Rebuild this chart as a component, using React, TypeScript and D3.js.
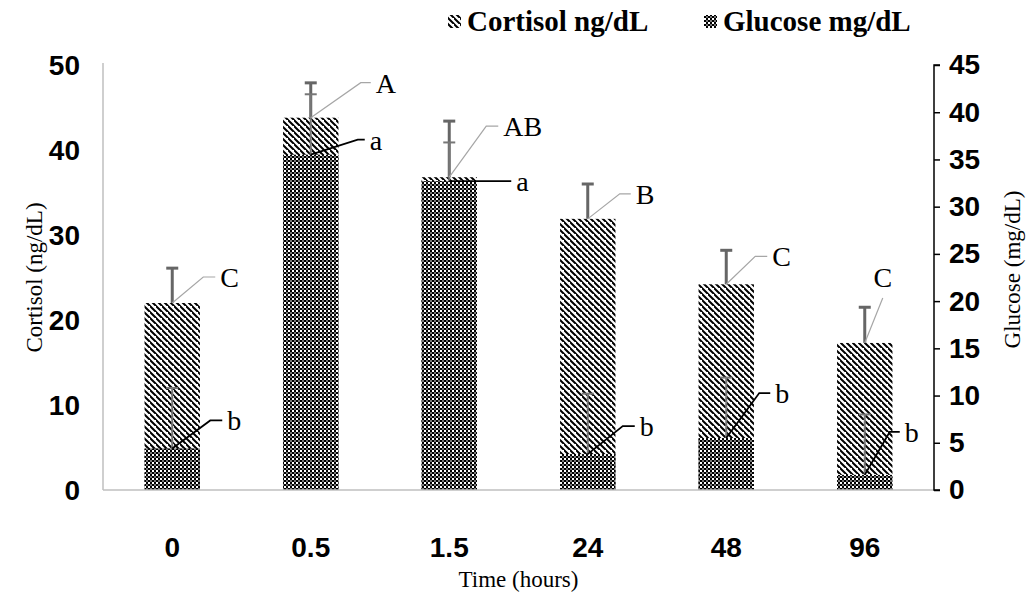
import { useEffect, useRef } from "react"
import * as d3 from "d3"

// time points (hours)
const categories = ["0", "0.5", "1.5", "24", "48", "96"]
// cortisol ng/dL, left axis
const cortisol = [22.0, 43.8, 36.8, 31.9, 24.2, 17.3]
const cortisolErr = [4.1, 4.1, 6.6, 4.1, 4.0, 4.2]
const cortisolLetters = ["C", "A", "AB", "B", "C", "C"]
// glucose mg/dL, right axis
const glucose = [4.4, 35.5, 32.7, 3.8, 5.5, 1.6]
const glucoseErr = [6.4, 6.4, 4.1, 6.4, 6.4, 6.4]
const glucoseLetters = ["b", "a", "a", "b", "b", "b"]

const cortisolTicks = [0, 10, 20, 30, 40, 50]
const glucoseTicks = [0, 5, 10, 15, 20, 25, 30, 35, 40, 45]

// leader line layout: [dx to elbow, dy to elbow, horizontal run]
const cortisolLeaders = [[31, -26, 12], [50, -35, 10], [37, -51, 12], [32, -25, 11], [29, -28, 12], [18, -45, 0]]
const glucoseLeaders = [[38, -28, 12], [47, -15, 7], [0, 0, 62], [35, -28, 12], [33, -45, 11], [25, -43, 10]]

const W = 1029
const H = 599
const M = { left: 103, right: 95, top: 65, bottom: 109 }

const App = () => {
  const svgRef = useRef<SVGSVGElement>(null)

  useEffect(() => {
    const svg = d3.select(svgRef.current)
    svg.selectAll("*").remove()

    const sans = "Liberation Sans, Arial, sans-serif"
    const serif = "Liberation Serif, Times New Roman, serif"

    const x = d3.scaleBand()
      .domain(categories)
      .range([M.left, W - M.right])
      .paddingInner(0.6)
      .paddingOuter(0.3)

    const yC = d3.scaleLinear().domain([0, 50]).range([H - M.bottom, M.top])
    const yG = d3.scaleLinear().domain([0, 45]).range([H - M.bottom, M.top])
    const cx = (i: number) => x(categories[i])! + x.bandwidth() / 2

    // patterns
    const defs = svg.append("defs")
    const hatch = defs.append("pattern")
      .attr("id", "hatch")
      .attr("patternUnits", "userSpaceOnUse")
      .attr("width", 6)
      .attr("height", 6)
    hatch.append("rect").attr("width", 6).attr("height", 6).attr("fill", "#fff")
    hatch.append("path")
      .attr("d", "M-1,-1 L7,7 M-4,2 L2,8 M4,-4 L10,2")
      .attr("stroke", "#000")
      .attr("stroke-width", 2)

    const checker = defs.append("pattern")
      .attr("id", "checker")
      .attr("patternUnits", "userSpaceOnUse")
      .attr("width", 4)
      .attr("height", 4)
    checker.append("rect").attr("width", 4).attr("height", 4).attr("fill", "#fff")
    checker.append("rect").attr("width", 2).attr("height", 2).attr("fill", "#000")
    checker.append("rect").attr("x", 2).attr("y", 2).attr("width", 2).attr("height", 2).attr("fill", "#000")
    checker.append("rect").attr("x", 2).attr("y", 0).attr("width", 2).attr("height", 2).attr("fill", "#777")

    // cortisol bars (behind)
    svg.append("g")
      .selectAll("rect")
      .data(cortisol)
      .join("rect")
        .attr("x", (d, i) => x(categories[i])!)
        .attr("y", d => yC(d))
        .attr("width", x.bandwidth())
        .attr("height", d => yC(0) - yC(d))
        .attr("fill", "url(#hatch)")

    // glucose bars (front)
    svg.append("g")
      .selectAll("rect")
      .data(glucose)
      .join("rect")
        .attr("x", (d, i) => x(categories[i])!)
        .attr("y", d => yG(d))
        .attr("width", x.bandwidth())
        .attr("height", d => yG(0) - yG(d))
        .attr("fill", "url(#checker)")

    // axes lines
    svg.append("line")
      .attr("x1", M.left).attr("x2", M.left)
      .attr("y1", M.top - 2).attr("y2", yC(0))
      .attr("stroke", "#bfbfbf").attr("stroke-width", 1.5)
    svg.append("line")
      .attr("x1", M.left).attr("x2", W - M.right)
      .attr("y1", yC(0)).attr("y2", yC(0))
      .attr("stroke", "#bfbfbf").attr("stroke-width", 1.5)

    // right axis
    const rightAxis = svg.append("g")
      .attr("transform", `translate(${W - M.right},0)`)
      .call(d3.axisRight(yG).tickValues(glucoseTicks).tickSize(6).tickPadding(9))
    rightAxis.select(".domain").attr("stroke", "#000").attr("stroke-width", 1.5)
      .attr("d", `M6,${yG(45)}H0V${yG(0)}H6`)
    rightAxis.selectAll(".tick line").attr("stroke", "#000").attr("stroke-width", 1.5)
    rightAxis.selectAll("text")
      .attr("font-family", sans)
      .attr("font-weight", "bold")
      .attr("font-size", 28)
      .attr("fill", "#000")

    // left tick labels
    svg.append("g")
      .attr("text-anchor", "end")
      .selectAll("text")
      .data(cortisolTicks)
      .join("text")
        .attr("x", 80)
        .attr("y", d => yC(d))
        .attr("dy", "0.35em")
        .attr("font-family", sans)
        .attr("font-weight", "bold")
        .attr("font-size", 28)
        .text(d => d)

    // x tick labels
    svg.append("g")
      .attr("text-anchor", "middle")
      .selectAll("text")
      .data(categories)
      .join("text")
        .attr("x", (d, i) => cx(i))
        .attr("y", 547)
        .attr("dy", "0.35em")
        .attr("font-family", sans)
        .attr("font-weight", "bold")
        .attr("font-size", 28)
        .text(d => d)

    // axis titles
    svg.append("text")
      .attr("x", (M.left + W - M.right) / 2)
      .attr("y", 579)
      .attr("dy", "0.35em")
      .attr("text-anchor", "middle")
      .attr("font-family", serif)
      .attr("font-size", 23)
      .text("Time (hours)")
    svg.append("text")
      .attr("transform", `translate(34,${(M.top + yC(0)) / 2}) rotate(-90)`)
      .attr("dy", "0.35em")
      .attr("text-anchor", "middle")
      .attr("font-family", serif)
      .attr("font-size", 23)
      .text("Cortisol (ng/dL)")
    svg.append("text")
      .attr("transform", `translate(1012,${(M.top + yC(0)) / 2 - 8}) rotate(-90)`)
      .attr("dy", "0.35em")
      .attr("text-anchor", "middle")
      .attr("font-family", serif)
      .attr("font-size", 23)
      .text("Glucose (mg/dL)")

    // error bars
    const errBars = (vals: number[], errs: number[], y: d3.ScaleLinear<number, number>, color: string, w: number) => {
      const g = svg.append("g").attr("stroke", color).attr("stroke-width", w)
      g.selectAll("line.stem")
        .data(vals)
        .join("line")
          .attr("class", "stem")
          .attr("x1", (d, i) => cx(i)).attr("x2", (d, i) => cx(i))
          .attr("y1", d => y(d)).attr("y2", (d, i) => y(d + errs[i]))
      g.selectAll("line.cap")
        .data(vals)
        .join("line")
          .attr("class", "cap")
          .attr("x1", (d, i) => cx(i) - 6).attr("x2", (d, i) => cx(i) + 6)
          .attr("y1", (d, i) => y(d + errs[i])).attr("y2", (d, i) => y(d + errs[i]))
    }
    errBars(cortisol, cortisolErr, yC, "#666", 3)
    errBars(glucose, glucoseErr, yG, "#777", 2)

    // leader labels
    const leaders = (vals: number[], letters: string[], lay: number[][], y: d3.ScaleLinear<number, number>, color: string, w: number) => {
      const g = svg.append("g")
      g.selectAll("path")
        .data(vals)
        .join("path")
          .attr("fill", "none")
          .attr("stroke", color)
          .attr("stroke-width", w)
          .attr("d", (d, i) => {
            const [dx, dy, h] = lay[i]
            const x0 = cx(i), y0 = y(d)
            return `M${x0},${y0}L${x0 + dx},${y0 + dy}h${h}`
          })
      g.selectAll("text")
        .data(vals)
        .join("text")
          .attr("font-family", serif)
          .attr("font-size", 28)
          .attr("text-anchor", (d, i) => lay[i][2] === 0 ? "middle" : "start")
          .attr("x", (d, i) => {
            const [dx, , h] = lay[i]
            return h === 0 ? cx(i) + dx : cx(i) + dx + h + 5
          })
          .attr("y", (d, i) => {
            const [, dy, h] = lay[i]
            return h === 0 ? y(d) + dy - 11 : y(d) + dy + 10
          })
          .text((d, i) => letters[i])
    }
    leaders(cortisol, cortisolLetters, cortisolLeaders, yC, "#a6a6a6", 1.2)
    leaders(glucose, glucoseLetters, glucoseLeaders, yG, "#000", 1.8)

    // legend
    const legend = [
      { label: "Cortisol ng/dL", fill: "url(#hatch)", x: 448 },
      { label: "Glucose mg/dL", fill: "url(#checker)", x: 704 },
    ]
    const lg = svg.append("g")
      .selectAll("g")
      .data(legend)
      .join("g")
        .attr("transform", d => `translate(${d.x},0)`)
    lg.append("rect")
      .attr("y", 15)
      .attr("width", 13)
      .attr("height", 13)
      .attr("fill", d => d.fill)
    lg.append("text")
      .attr("x", 19)
      .attr("y", 31)
      .attr("font-family", serif)
      .attr("font-weight", "bold")
      .attr("font-size", 29)
      .text(d => d.label)
  }, [])

  return (
    <svg
      ref={svgRef}
      width={W}
      height={H}
      viewBox={`0 0 ${W} ${H}`}
      style={{ position: "absolute", left: 0, top: 0, background: "#fff" }}
    />
  )
}

export default App
